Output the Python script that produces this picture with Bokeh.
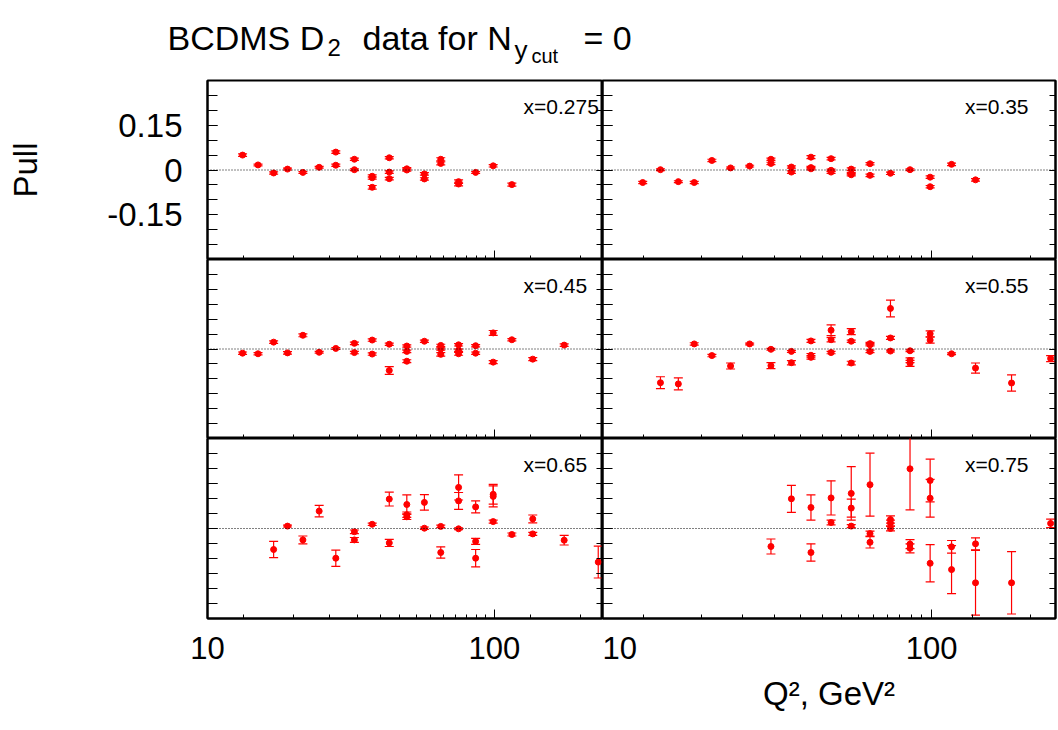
from bokeh.plotting import figure
from bokeh.models import (Range1d, LinearAxis, LogAxis, FixedTicker, Span, Label,
                          ColumnDataSource, PrintfTickFormatter)
from bokeh.layouts import gridplot, column
from bokeh.embed import file_html
from bokeh.resources import INLINE

FONT = "Liberation Sans"

# ---------------- data ----------------
panel_labels = ["x=0.275", "x=0.35", "x=0.45", "x=0.55", "x=0.65", "x=0.75"]

q2_x0275 = [13.25, 15, 17, 19, 21.5, 24.5, 28, 28, 32.5, 32.5, 37.5, 37.5, 37.5, 43, 43, 43,
            49.5, 49.5, 57, 57, 65, 65, 75, 75, 86, 99, 115]
pull_x0275 = [0.050, 0.017, -0.010, 0.003, -0.008, 0.009, 0.060, 0.016, 0.036, 0.001, -0.021,
              -0.026, -0.058, 0.041, -0.007, -0.029, 0.004, 0.000, -0.013, -0.030, 0.036, 0.022,
              -0.039, -0.047, -0.008, 0.014, -0.049]
err_x0275 = [0.004, 0.003, 0.004, 0.003, 0.003, 0.003, 0.004, 0.004, 0.004, 0.003, 0.005,
             0.005, 0.006, 0.004, 0.004, 0.004, 0.004, 0.004, 0.004, 0.004, 0.005, 0.005,
             0.006, 0.006, 0.003, 0.004, 0.005]

q2_x035 = [13.25, 15, 17, 19, 21.5, 24.5, 28, 32.5, 32.5, 37.5, 37.5, 43, 43, 43, 49.5, 49.5,
           49.5, 57, 57, 57, 65, 65, 75, 86, 99, 99, 115, 136]
pull_x035 = [-0.042, 0.001, -0.039, -0.042, 0.032, 0.007, 0.013, 0.036, 0.022, 0.010, -0.007,
             0.043, 0.008, 0.004, 0.038, -0.001, -0.007, 0.003, -0.012, -0.016, 0.021, -0.018,
             -0.011, 0.001, -0.024, -0.056, 0.019, -0.033]
err_x035 = [0.004, 0.003, 0.003, 0.004, 0.004, 0.003, 0.003, 0.004, 0.004, 0.004, 0.004,
            0.005, 0.004, 0.004, 0.004, 0.004, 0.004, 0.004, 0.004, 0.004, 0.004, 0.004,
            0.004, 0.003, 0.004, 0.004, 0.004, 0.004]

q2_x045 = [13.25, 15, 17, 19, 21.5, 24.5, 28, 32.5, 32.5, 37.5, 37.5, 43, 43, 49.5, 49.5, 49.5,
           57, 65, 65, 65, 75, 75, 75, 86, 86, 99, 99, 115, 136, 175]
pull_x045 = [-0.014, -0.016, 0.023, -0.013, 0.046, -0.011, 0.002, 0.019, -0.012, 0.030, -0.017,
             0.016, -0.072, 0.010, -0.008, -0.041, 0.026, 0.012, 0.000, -0.018, 0.014, -0.004,
             -0.016, 0.011, -0.014, 0.054, -0.044, 0.031, -0.034, 0.013]
err_x045 = [0.004, 0.004, 0.004, 0.004, 0.005, 0.003, 0.003, 0.004, 0.004, 0.004, 0.004,
            0.004, 0.013, 0.004, 0.004, 0.005, 0.004, 0.004, 0.004, 0.006, 0.004, 0.004,
            0.005, 0.004, 0.004, 0.008, 0.005, 0.004, 0.005, 0.004]

q2_x055 = [15, 17, 19, 21.5, 24.5, 28, 32.5, 32.5, 37.5, 37.5, 43, 43, 43, 49.5, 49.5, 49.5,
           57, 57, 57, 65, 65, 65, 75, 75, 75, 86, 86, 86, 99, 99, 115, 136, 175, 230]
pull_x055 = [-0.113, -0.117, 0.017, -0.022, -0.057, 0.017, -0.001, -0.056, -0.008, -0.046,
             0.027, -0.021, -0.028, 0.063, 0.031, -0.012, 0.058, 0.026, -0.047, 0.018, 0.014,
             -0.008, 0.136, 0.037, -0.007, -0.006, -0.038, -0.048, 0.051, 0.030, -0.016,
             -0.064, -0.114, -0.032]
err_x055 = [0.020, 0.020, 0.004, 0.004, 0.010, 0.003, 0.003, 0.010, 0.003, 0.007, 0.005,
            0.006, 0.006, 0.018, 0.007, 0.004, 0.010, 0.004, 0.006, 0.004, 0.004, 0.004,
            0.028, 0.005, 0.003, 0.003, 0.008, 0.010, 0.010, 0.010, 0.003, 0.017, 0.027, 0.010]

q2_x065 = [17, 19, 21.5, 24.5, 28, 32.5, 32.5, 37.5, 43, 43, 49.5, 49.5, 49.5, 57, 57, 65, 65,
           75, 75, 75, 86, 86, 86, 99, 99, 99, 115, 136, 136, 175, 230]
pull_x065 = [-0.070, 0.008, -0.038, 0.058, -0.099, -0.011, -0.038, 0.014, 0.098, -0.048, 0.080,
             0.046, 0.039, 0.087, 0.001, 0.007, -0.080, 0.137, 0.092, -0.001, 0.072, -0.043,
             -0.099, 0.114, 0.107, 0.023, -0.020, 0.032, -0.018, -0.039, -0.112]
err_x065 = [0.027, 0.003, 0.013, 0.019, 0.027, 0.006, 0.008, 0.004, 0.023, 0.012, 0.032,
            0.009, 0.009, 0.026, 0.004, 0.004, 0.019, 0.042, 0.028, 0.003, 0.020, 0.010,
            0.029, 0.033, 0.035, 0.005, 0.005, 0.013, 0.005, 0.016, 0.053]

q2_x075 = [32.5, 37.5, 43, 43, 49.5, 49.5, 57, 57, 57, 65, 65, 65, 75, 75, 75, 86, 86, 86,
           99, 99, 99, 115, 115, 136, 136, 175, 230]
pull_x075 = [-0.060, 0.099, 0.070, -0.080, 0.102, 0.020, 0.117, 0.068, 0.008, 0.146, -0.017,
             -0.046, 0.030, 0.018, 0.000, 0.199, -0.052, -0.066, 0.160, 0.101, -0.116, -0.061,
             -0.137, -0.051, -0.181, -0.181, 0.017]
err_x075 = [0.025, 0.045, 0.042, 0.029, 0.057, 0.008, 0.089, 0.030, 0.005, 0.105, 0.008,
            0.019, 0.012, 0.010, 0.008, 0.137, 0.015, 0.015, 0.071, 0.063, 0.062, 0.021,
            0.080, 0.020, 0.108, 0.104, 0.014]

# axis settings
Q2_MIN, Q2_MAX = 10, 238
PULL_MIN, PULL_MAX = -0.3, 0.3
x_major_ticks = [10, 100]
x_minor_ticks = [40 / 3, 20, 80 / 3, 100 / 3, 40, 140 / 3, 160 / 3, 60, 200 / 3, 220 / 3, 80,
                 260 / 3, 280 / 3, 400 / 3, 200]
y_major_ticks = [-0.15, 0, 0.15]
y_minor_ticks = [-0.25, -0.2, -0.15, -0.1, -0.05, 0, 0.05, 0.1, 0.15, 0.2, 0.25]
y_tick_labels = {-0.15: "-0.15", 0: "0", 0.15: "0.15"}

series = [
    (q2_x0275, pull_x0275, err_x0275),
    (q2_x035, pull_x035, err_x035),
    (q2_x045, pull_x045, err_x045),
    (q2_x055, pull_x055, err_x055),
    (q2_x065, pull_x065, err_x065),
    (q2_x075, pull_x075, err_x075),
]

FRAME_W = [395, 453]
FRAME_H = [179, 179, 180]


def hide_labels(axis):
    axis.major_label_text_color = None
    axis.major_label_text_alpha = 0
    axis.major_label_text_font_size = "0px"
    axis.major_label_standoff = 0


def make_panel(idx):
    row, col = divmod(idx, 2)
    q2, pull, err = series[idx]
    fw, fh = FRAME_W[col], FRAME_H[row]
    p = figure(frame_width=fw, frame_height=fh, x_axis_type="log",
               x_range=Range1d(Q2_MIN, Q2_MAX), y_range=Range1d(PULL_MIN, PULL_MAX),
               x_axis_location=None, y_axis_location=None,
               toolbar_location=None, output_backend="svg",
               min_border_left=207 if col == 0 else 0,
               min_border_right=0 if col == 0 else 3,
               min_border_top=2 if row == 0 else 0,
               min_border_bottom=112 if row == 2 else 0,
               background_fill_color="white", border_fill_color="white")
    p.outline_line_color = "black"
    p.outline_line_width = 2
    for g in p.grid:
        g.grid_line_color = None

    # bottom log axis with inward ticks
    xa = LogAxis(ticker=FixedTicker(ticks=x_major_ticks, minor_ticks=x_minor_ticks),
                 formatter=PrintfTickFormatter(format="%g"),
                 major_tick_in=9, major_tick_out=0, minor_tick_in=4, minor_tick_out=0,
                 axis_line_color="black", axis_line_width=2,
                 major_tick_line_color="black", minor_tick_line_color="black",
                 major_tick_line_width=1, minor_tick_line_width=1)
    if row == 2:
        xa.major_label_text_font = FONT
        xa.major_label_text_font_size = "31px"
        xa.major_label_text_color = "black"
        xa.major_label_standoff = 18
        if col == 1:
            xa.axis_label = "Q\u00b2, GeV\u00b2"
            xa.axis_label_text_font = FONT
            xa.axis_label_text_font_size = "33px"
            xa.axis_label_text_font_style = "normal"
            xa.axis_label_text_color = "black"
            xa.axis_label_standoff = 13
    else:
        hide_labels(xa)
    p.add_layout(xa, "below")

    # left axis
    ya = LinearAxis(ticker=FixedTicker(ticks=y_major_ticks, minor_ticks=y_minor_ticks),
                    major_tick_in=10, major_tick_out=0, minor_tick_in=10, minor_tick_out=0,
                    axis_line_color="black", axis_line_width=2,
                    major_tick_line_color="black", minor_tick_line_color="black")
    if idx == 0:
        ya.major_label_overrides = y_tick_labels
        ya.major_label_text_font = FONT
        ya.major_label_text_font_size = "33px"
        ya.major_label_text_color = "black"
        ya.major_label_standoff = 25
        ya.axis_label = "Pull"
        ya.axis_label_text_font = FONT
        ya.axis_label_text_font_size = "33px"
        ya.axis_label_text_font_style = "normal"
        ya.axis_label_text_color = "black"
        ya.axis_label_standoff = 60
    else:
        hide_labels(ya)
    p.add_layout(ya, "left")

    # right axis (ticks only)
    yr = LinearAxis(ticker=FixedTicker(ticks=y_major_ticks, minor_ticks=y_minor_ticks),
                    major_tick_in=6, major_tick_out=0, minor_tick_in=6, minor_tick_out=0,
                    axis_line_color="black", axis_line_width=2,
                    major_tick_line_color="black", minor_tick_line_color="black")
    hide_labels(yr)
    p.add_layout(yr, "right")

    # zero line
    p.add_layout(Span(location=0, dimension="width", line_color="black",
                      line_dash="1 2", line_width=1))

    src = ColumnDataSource(dict(q2=q2, pull=pull,
                                lo=[v - e for v, e in zip(pull, err)],
                                hi=[v + e for v, e in zip(pull, err)]))
    p.segment(x0="q2", y0="lo", x1="q2", y1="hi", source=src,
              line_color="red", line_width=1.2)
    p.scatter(x="q2", y="lo", source=src, marker="dash", size=9,
              line_color="red", line_width=1.2)
    p.scatter(x="q2", y="hi", source=src, marker="dash", size=9,
              line_color="red", line_width=1.2)
    p.scatter(x="q2", y="pull", source=src, marker="circle", size=6,
              fill_color="red", line_color="red")

    # panel label at 80% of the frame width
    lx = Q2_MIN * (Q2_MAX / Q2_MIN) ** 0.8
    ly = PULL_MAX - 26 * (PULL_MAX - PULL_MIN) / fh
    p.add_layout(Label(x=lx, y=ly, text=panel_labels[idx], text_font=FONT,
                       text_font_size="21px", text_color="black",
                       text_baseline="alphabetic", text_align="left"))
    return p


panels = [make_panel(i) for i in range(6)]

# ---------------- title strip ----------------
t = figure(width=1058, height=78, x_range=Range1d(0, 1058), y_range=Range1d(78, 0),
           x_axis_location=None, y_axis_location=None, toolbar_location=None,
           output_backend="svg", min_border=0)
t.outline_line_color = None
for g in t.grid:
    g.grid_line_color = None
title_parts = [
    ("BCDMS D", 167, 37, "34px"),
    ("2", 327, 47, "24px"),
    ("data for N", 362, 37, "34px"),
    ("y", 514, 49, "26px"),
    ("cut", 531, 55, "20px"),
    ("= 0", 583, 37, "34px"),
]
for txt, x, y, size in title_parts:
    t.add_layout(Label(x=x, y=y, text=txt, text_font=FONT, text_font_size=size,
                       text_color="black", text_baseline="alphabetic", text_align="left"))

grid = gridplot([[panels[0], panels[1]], [panels[2], panels[3]], [panels[4], panels[5]]],
                toolbar_location=None)
layout = column(t, grid)

open("out.html", "w").write(file_html(layout, INLINE))
